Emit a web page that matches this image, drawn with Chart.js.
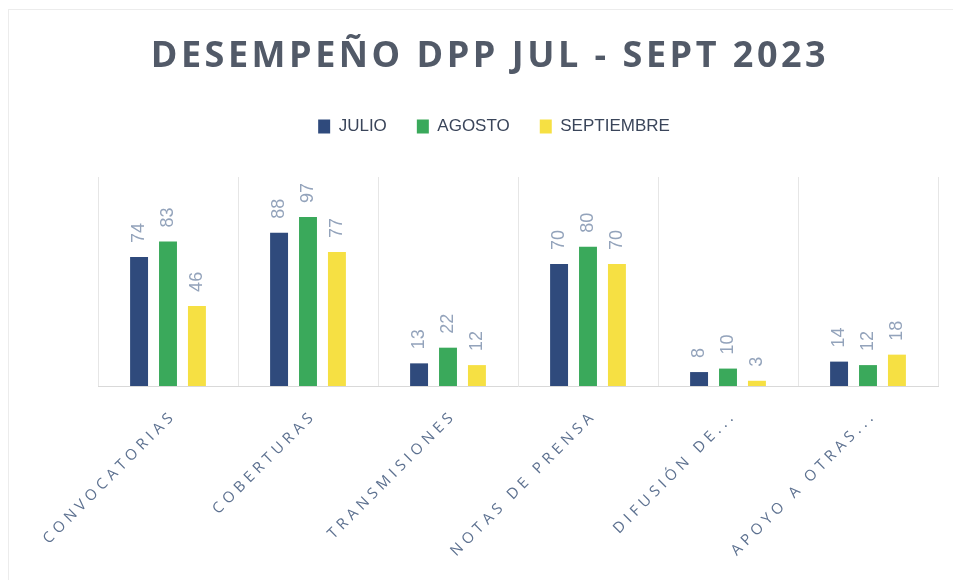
<!DOCTYPE html>
<html>
<head>
<meta charset="utf-8">
<script src="https://cdn.jsdelivr.net/npm/chart.js@4/dist/chart.umd.min.js"></script>
<style>
  html, body { margin: 0; padding: 0; background: #fff; }
  #wrap { width: 953px; height: 580px; }
</style>
</head>
<body>
<div id="wrap"><canvas id="dppChart"></canvas></div>
<script>
const title = 'DESEMPEÑO DPP JUL - SEPT 2023'
const categories = ['CONVOCATORIAS', 'COBERTURAS', 'TRANSMISIONES', 'NOTAS DE PRENSA', 'DIFUSIÓN DE...', 'APOYO A OTRAS...']
const seriesNames = ['JULIO', 'AGOSTO', 'SEPTIEMBRE']
const julio = [74, 88, 13, 70, 8, 14]
const agosto = [83, 97, 22, 80, 10, 12]
const septiembre = [46, 77, 12, 70, 3, 18]
const colors = ['#2f4a7c', '#3aa95b', '#f6e043']

// frame + title drawn by hand so letter spacing can be used
const framePlugin = {
  id: 'frame',
  beforeDraw(chart) {
    const ctx = chart.ctx
    ctx.save()
    ctx.strokeStyle = '#ececec'
    ctx.lineWidth = 1
    ctx.strokeRect(8.5, 9.5, 960, 580)
    ctx.fillStyle = '#525a68'
    ctx.font = 'bold 36px "Open Sans", sans-serif'
    ctx.letterSpacing = '3.5px'
    ctx.textAlign = 'center'
    ctx.textBaseline = 'middle'
    ctx.fillText(title, 490, 57)
    ctx.restore()
  },
}

const legendMargin = {
  id: 'legendMargin',
  beforeInit(chart) {
    const fit = chart.legend.fit
    chart.legend.fit = function () {
      fit.bind(chart.legend)()
      this.height += 32
    }
  },
  afterLayout(chart) {
    // legend sits a bit left of the plot centre in the original
    chart.legend.left -= 24
    chart.legend.right -= 24
  },
}

// rotated value labels above bars
const valueLabels = {
  id: 'valueLabels',
  afterDatasetsDraw(chart) {
    const ctx = chart.ctx
    ctx.save()
    ctx.fillStyle = '#93a3bb'
    ctx.font = '300 18px "Liberation Sans", sans-serif'
    ctx.textAlign = 'left'
    ctx.textBaseline = 'middle'
    chart.data.datasets.forEach((ds, i) => {
      chart.getDatasetMeta(i).data.forEach((bar, j) => {
        ctx.save()
        ctx.translate(bar.x, bar.y - 14)
        ctx.rotate(-Math.PI / 2)
        ctx.fillText(ds.data[j], 0, 0)
        ctx.restore()
      })
    })
    ctx.restore()
  },
}

// category labels, 45 degrees, letter spaced
const categoryLabels = {
  id: 'categoryLabels',
  afterDraw(chart) {
    const ctx = chart.ctx
    const xScale = chart.scales.x
    ctx.save()
    ctx.fillStyle = '#5d7190'
    ctx.font = '15px "Open Sans", sans-serif'
    ctx.letterSpacing = '4.5px'
    ctx.textAlign = 'right'
    ctx.textBaseline = 'middle'
    categories.forEach((label, i) => {
      const x = xScale.getPixelForTick(i)
      ctx.save()
      ctx.translate(x + 6, xScale.top + 27)
      ctx.rotate(-Math.PI / 4)
      ctx.fillText(label, 0, 0)
      ctx.restore()
    })
    ctx.restore()
  },
}

new Chart(document.getElementById('dppChart'), {
  type: 'bar',
  data: {
    labels: categories,
    datasets: [
      { label: seriesNames[0], data: julio, backgroundColor: colors[0] },
      { label: seriesNames[1], data: agosto, backgroundColor: colors[1] },
      { label: seriesNames[2], data: septiembre, backgroundColor: colors[2] },
    ],
  },
  options: {
    responsive: true,
    maintainAspectRatio: false,
    animation: false,
    layout: {
      padding: { top: 88, left: 98, right: 15, bottom: 194 },
    },
    datasets: {
      bar: {
        categoryPercentage: 0.62,
        barPercentage: 0.62,
      },
    },
    scales: {
      x: {
        grid: { color: '#e6e6e6', offset: true, drawTicks: false },
        border: { color: '#d9d9d9' },
        ticks: { display: false },
      },
      y: {
        display: false,
        min: 0,
        max: 120,
      },
    },
    plugins: {
      title: { display: false },
      tooltip: { enabled: false },
      legend: {
        position: 'top',
        labels: {
          boxWidth: 12,
          boxHeight: 14,
          padding: 30,
          color: '#3a455a',
          font: { size: 17, family: '"Liberation Sans Narrow", "Liberation Sans", sans-serif' },
        },
      },
    },
  },
  plugins: [framePlugin, legendMargin, valueLabels, categoryLabels],
})
</script>
</body>
</html>
